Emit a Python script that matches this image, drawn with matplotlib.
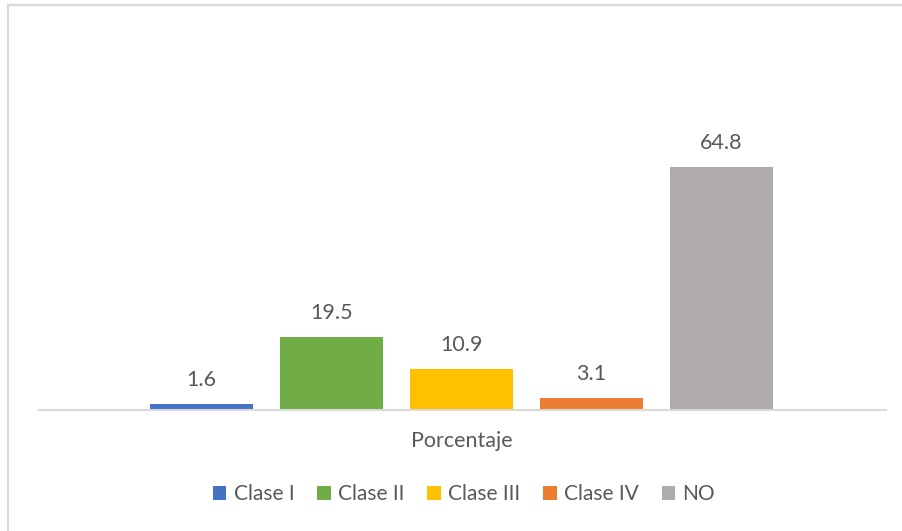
import matplotlib.pyplot as plt
from matplotlib.lines import Line2D
from matplotlib.patches import Patch

# Data
categories = ['Clase I', 'Clase II', 'Clase III', 'Clase IV', 'NO']
values = [1.6, 19.5, 10.9, 3.1, 64.8]
colors = ['#4472C4', '#70AD47', '#FFC000', '#ED7D31', '#AFABAB']
group_label = 'Porcentaje'

plt.rcParams['font.family'] = ['Lato', 'DejaVu Sans']
text_color = '#595959'

W, H = 902, 531
fig = plt.figure(figsize=(W / 100, H / 100), dpi=100)

# plot area in pixels: x 39..886, baseline y=410, top y=30
left, right, bottom, top = 39, 886, 410, 30
ax = fig.add_axes([left / W, 1 - bottom / H, (right - left) / W, (bottom - top) / H])

x = list(range(len(values)))
bars = ax.bar(x, values, width=0.79, color=colors)
for b, v in zip(bars, values):
    ax.annotate(f'{v:.1f}', (b.get_x() + b.get_width() / 2, v),
                xytext=(0, 24), textcoords='offset pixels',
                ha='center', va='center', fontsize=15.5, color=text_color)

ax.set_xlim(-1.25, 5.265)
ax.set_ylim(0, (bottom - top) / 3.75)
ax.set_xticks([])
ax.set_yticks([])
for s in ['top', 'right', 'left']:
    ax.spines[s].set_visible(False)
ax.spines['bottom'].set_color('#D9D9D9')
ax.spines['bottom'].set_linewidth(1.5)

fig.text(461.5 / W, 1 - 441 / H, group_label, ha='center', va='center',
         fontsize=15.5, color=text_color)

handles = [Patch(facecolor=c, label=l) for c, l in zip(colors, categories)]
leg = fig.legend(handles=handles, loc='center', bbox_to_anchor=(464 / W, 1 - 494 / H),
                 ncol=5, frameon=False, fontsize=15, handlelength=0.65,
                 handleheight=0.65, handletextpad=0.35, columnspacing=1.1)
for t in leg.get_texts():
    t.set_color(text_color)

# chart border (top and left visible)
fig.add_artist(Line2D([8 / W, 8 / W], [0, 1 - 5 / H], color='#D9D9D9', lw=1.6))
fig.add_artist(Line2D([8 / W, 1], [1 - 5 / H, 1 - 5 / H], color='#D9D9D9', lw=1.6))

fig.savefig('out.png', dpi=100)
